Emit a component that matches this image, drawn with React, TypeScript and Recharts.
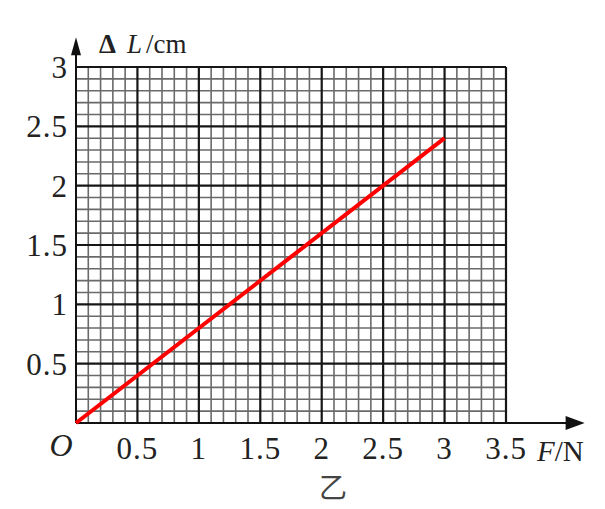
import { ComposedChart, Line, XAxis, YAxis, ReferenceLine, Customized } from "recharts";

// readings off the graph paper
const forceN = [0, 3];
const extensionCm = [0, 2.4];

const xTicks = [0.5, 1, 1.5, 2, 2.5, 3, 3.5];
const yTicks = [0.5, 1, 1.5, 2, 2.5, 3];
// graph paper: a fine line every 0.1, a heavy one every 0.5
const minorX = Array.from({ length: 36 }, (_, i) => i / 10).filter((v) => notMajor(v));
const minorY = Array.from({ length: 31 }, (_, i) => i / 10).filter((v) => notMajor(v));
const majorX = [0.5, 1, 1.5, 2, 2.5, 3, 3.5];
const majorY = [0.5, 1, 1.5, 2, 2.5, 3];

function notMajor(v: number) {
  return Math.round(v * 10) % 5 !== 0;
}

const data = forceN.map((f, i) => ({ f, dl: extensionCm[i] }));

const serif = "'Liberation Serif', 'DejaVu Serif', serif";

function Arrow(props: any) {
  const { x1, y1, x2, y2 } = props;
  const horizontal = Math.abs(y2 - y1) < Math.abs(x2 - x1);
  const head = horizontal
    ? `M${x2},${y2} L${x2 - 19},${y2 - 7} L${x2 - 19},${y2 + 7} Z`
    : `M${x2},${y2} L${x2 - 5},${y2 + 18} L${x2 + 5},${y2 + 18} Z`;
  return (
    <g>
      <line x1={x1} y1={y1} x2={horizontal ? x2 - 16 : x2} y2={horizontal ? y2 : y2 + 16} stroke="#111" strokeWidth={2} />
      <path d={head} fill="#111" />
    </g>
  );
}

function Annotations() {
  return (
    <g fill="#222" fontFamily={serif}>
      <text x={99} y={53} fontSize={27}>
        <tspan fontWeight="bold">Δ</tspan>
        <tspan x={127} fontStyle="italic">L</tspan>
        <tspan x={146}>/cm</tspan>
      </text>
      <text x={61} y={456} fontSize={32} fontStyle="italic" textAnchor="middle">O</text>
      <text x={537} y={461} fontSize={29}>
        <tspan fontStyle="italic">F</tspan>
        <tspan>/N</tspan>
      </text>
      <text x={333} y={498} fontSize={28} textAnchor="middle" fill="#444" fontFamily="'Noto Sans CJK SC', sans-serif">乙</text>
    </g>
  );
}

const tickStyle = { fontSize: 31, fontFamily: serif, fill: "#222", letterSpacing: 1 };

export default function App() {
  return (
    <div style={{ position: "absolute", left: 0, top: 0, background: "#fff" }}>
      <ComposedChart width={605} height={509} data={data} margin={{ top: 67, right: 99, bottom: 46, left: 0 }}>
        <XAxis
          dataKey="f"
          type="number"
          domain={[0, 3.5]}
          ticks={xTicks}
          axisLine={false}
          tickLine={false}
          tickSize={0}
          tickMargin={14}
          height={40}
          tick={tickStyle}
        />
        <YAxis
          type="number"
          domain={[0, 3]}
          ticks={yTicks}
          axisLine={false}
          tickLine={false}
          tickSize={0}
          tickMargin={8}
          width={76}
          tick={tickStyle}
        />
        {minorX.map((v) => (
          <ReferenceLine key={`mx${v}`} x={v} stroke="#6a6a6a" strokeWidth={1.6} />
        ))}
        {minorY.map((v) => (
          <ReferenceLine key={`my${v}`} y={v} stroke="#6a6a6a" strokeWidth={1.6} />
        ))}
        {majorX.map((v) => (
          <ReferenceLine key={`Mx${v}`} x={v} stroke="#161616" strokeWidth={2.2} />
        ))}
        {majorY.map((v) => (
          <ReferenceLine key={`My${v}`} y={v} stroke="#161616" strokeWidth={2.2} />
        ))}
        <ReferenceLine segment={[{ x: 0, y: 0 }, { x: 4.14, y: 0 }]} ifOverflow="visible" shape={(p: any) => <Arrow {...p} />} />
        <ReferenceLine segment={[{ x: 0, y: 0 }, { x: 0, y: 3.25 }]} ifOverflow="visible" shape={(p: any) => <Arrow {...p} />} />
        <Line dataKey="dl" type="linear" stroke="#ff0000" strokeWidth={4} dot={false} isAnimationActive={false} />
        <Customized component={Annotations} />
      </ComposedChart>
    </div>
  );
}
